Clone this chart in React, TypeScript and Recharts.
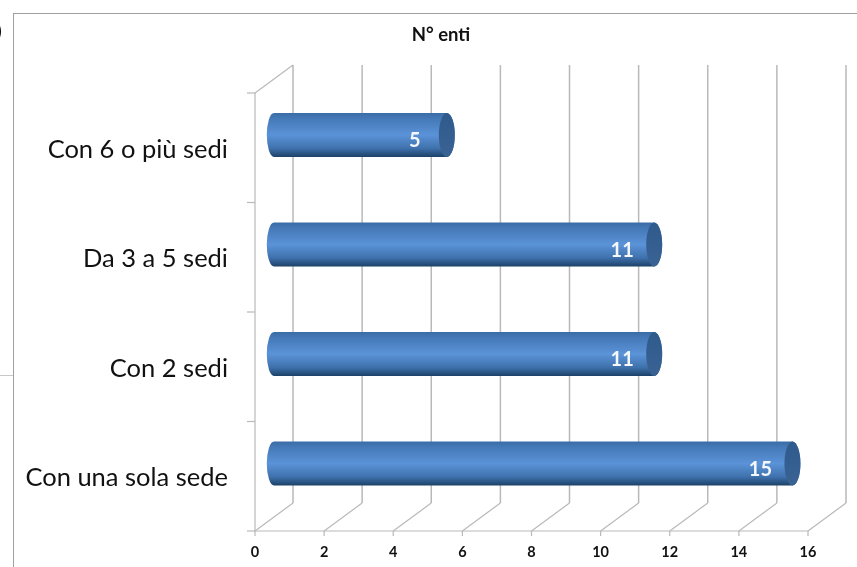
import React from "react";
import { BarChart, Bar, XAxis, YAxis, LabelList, CartesianGrid } from "recharts";

const categories = ["Con 6 o più sedi", "Da 3 a 5 sedi", "Con 2 sedi", "Con una sola sede"];
const enti = [5, 11, 11, 15];
const xTicks = [0, 2, 4, 6, 8, 10, 12, 14, 16];
const title = "N° enti";

const data = categories.map((name, i) => ({ name, enti: enti[i] }));

const FONT = "Lato, 'Open Sans', sans-serif";
const GRID = "#b9b9b9";
const DX = 38;
const DY = 28;
const BAND = 109.5;

function WallLine(props: any) {
  const { x1, y1, y2, index } = props;
  const bottom = Math.max(y1, y2);
  const top = Math.min(y1, y2);
  return (
    <g>
      <line x1={x1} y1={bottom} x2={x1 + DX} y2={bottom - DY} stroke={GRID} strokeWidth={1.2} />
      <line x1={x1 + DX} y1={bottom - DY} x2={x1 + DX} y2={top - DY} stroke={GRID} strokeWidth={1.5} />
      {index === 0 && <line x1={x1} y1={top} x2={x1 + DX} y2={top - DY} stroke={GRID} strokeWidth={1.2} />}
    </g>
  );
}

function XTick(props: any) {
  const { x, y, payload } = props;
  const axisY = y - 8;
  return (
    <g>
      <line x1={x} y1={axisY} x2={x} y2={axisY + 5} stroke={GRID} strokeWidth={1.2} />
      <text x={x} y={axisY + 26} textAnchor="middle" fontFamily={FONT} fontWeight={700} fontSize={14.5} fill="#111">
        {payload.value}
      </text>
    </g>
  );
}

function YTick(props: any) {
  const { y, payload, index } = props;
  return (
    <g>
      <line x1={247} x2={255} y1={y - BAND / 2} y2={y - BAND / 2} stroke={GRID} strokeWidth={1.2} />
      {index === categories.length - 1 && (
        <line x1={247} x2={255} y1={y + BAND / 2} y2={y + BAND / 2} stroke={GRID} strokeWidth={1.2} />
      )}
      <text x={228} y={y + 10} textAnchor="end" fontFamily={FONT} fontSize={25.5} fill="#111">
        {payload.value}
      </text>
    </g>
  );
}

function Cylinder(props: any) {
  const { x, y, width, height } = props;
  const rx = 8;
  const left = x + DX / 2;
  const top = y - 13;
  const right = left + width;
  const ry = height / 2;
  const body = `M ${left} ${top} L ${right} ${top} A ${rx} ${ry} 0 0 1 ${right} ${top + height} L ${left} ${top + height} A ${rx * 0.9} ${ry} 0 0 1 ${left} ${top} Z`;
  return (
    <g>
      <path d={body} fill="url(#cyl)" />
      <ellipse cx={right} cy={top + ry} rx={rx} ry={ry} fill="url(#cap)" />
    </g>
  );
}

function ValueLabel(props: any) {
  const { x, y, width, height, value } = props;
  return (
    <text
      x={x + width - 13}
      y={y + height / 2 - 13 + 12}
      textAnchor="middle"
      fontFamily={FONT}
      fontWeight={700}
      fontSize={20}
      fill="#f4f7fb"
    >
      {value}
    </text>
  );
}

export default function App() {
  return (
    <div style={{ position: "absolute", left: 0, top: 0, width: 857, height: 567, background: "#fff", overflow: "hidden", filter: "blur(0.4px)" }}>
      <div style={{ position: "absolute", left: 13, top: 13, width: 860, height: 570, border: "1px solid #a0a0a0" }} />
      <div style={{ position: "absolute", left: 0, top: 375, width: 13, height: 1, background: "#c8c8c8" }} />
      <div style={{ position: "absolute", left: 0, top: 0 }}>
        <BarChart
          width={857}
          height={567}
          data={data}
          layout="vertical"
          margin={{ top: 93, right: 49, bottom: 0, left: 0 }}
          barCategoryGap={0}
        >
          <defs>
            <linearGradient id="cyl" x1="0" y1="0" x2="0" y2="1">
              <stop offset="0" stopColor="#3a6ca6" />
              <stop offset="0.12" stopColor="#4478b6" />
              <stop offset="0.5" stopColor="#5b93d8" />
              <stop offset="0.8" stopColor="#3f72ad" />
              <stop offset="1" stopColor="#1c4168" />
            </linearGradient>
            <linearGradient id="cap" x1="0" y1="0" x2="0" y2="1">
              <stop offset="0" stopColor="#2f5a8c" />
              <stop offset="1" stopColor="#3a6394" />
            </linearGradient>
          </defs>
          <text x={441} y={41} textAnchor="middle" fontFamily={FONT} fontWeight={700} fontSize={18.5} fill="#111">
            {title}
          </text>
          <CartesianGrid horizontal={false} vertical={(p: any) => <WallLine key={p.key} {...p} />} />
          <XAxis
            type="number"
            dataKey="enti"
            domain={[0, 16]}
            ticks={xTicks}
            interval={0}
            height={36}
            tickLine={false}
            tickSize={0}
            tickMargin={8}
            axisLine={{ stroke: GRID, strokeWidth: 1.2 }}
            tick={<XTick />}
          />
          <YAxis
            type="category"
            dataKey="name"
            width={255}
            interval={0}
            tickLine={false}
            axisLine={{ stroke: GRID, strokeWidth: 1.2 }}
            tick={<YTick />}
          />
          <Bar dataKey="enti" barSize={44} isAnimationActive={false} shape={<Cylinder />}>
            <LabelList dataKey="enti" content={<ValueLabel />} />
          </Bar>
        </BarChart>
      </div>
      <div style={{ position: "absolute", left: -3, top: 20, fontFamily: FONT, fontWeight: 700, fontSize: 17, color: "#111" }}>)</div>
    </div>
  );
}
